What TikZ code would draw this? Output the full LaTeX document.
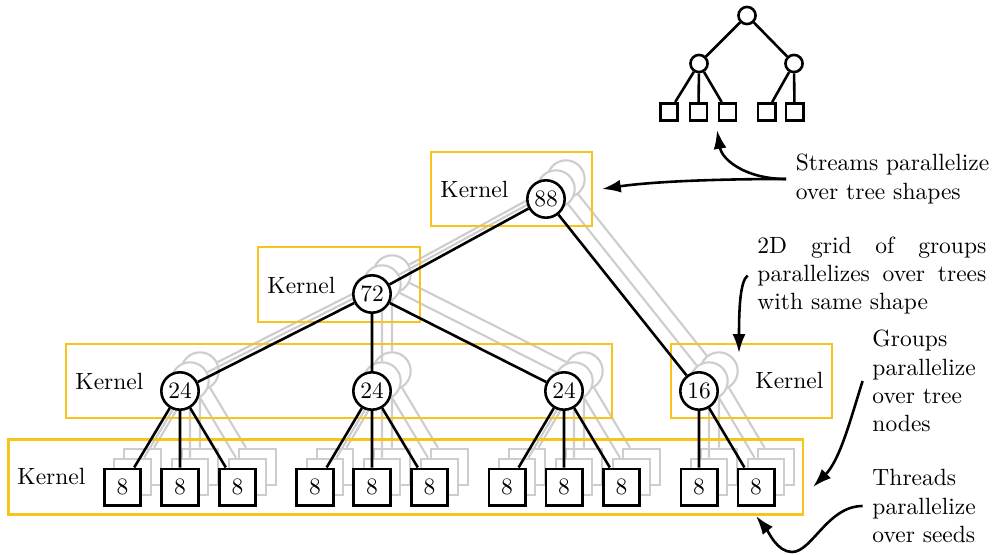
\documentclass[tikz,border=0pt]{standalone}
\usetikzlibrary{arrows.meta,fit}

% one drawing unit
\def\pxu{0.4255pt}
\definecolor{kernelyellow}{RGB}{248,196,28}
\definecolor{shadowgray}{RGB}{205,205,205}

\tikzset{
  treeline/.style={line width=1.1pt},
  cnode/.style={circle, draw, fill=white, line width=1.1pt, minimum size=15.9pt, inner sep=0pt},
  snode/.style={rectangle, draw, fill=white, line width=1.1pt, minimum size=15.5pt, inner sep=0pt},
  ghost/.style={draw=shadowgray, line width=0.9pt},
  kbox/.style={draw=kernelyellow, line width=1.1pt, inner sep=0pt},
  klabel/.style={anchor=west, inner sep=0pt},
  note/.style={anchor=west, align=left, inner xsep=4pt, inner ysep=0pt},
  ptr/.style={line width=1.1pt, -{Latex[length=8pt,width=5.5pt]}},
  minicirc/.style={circle, draw, fill=white, line width=1.1pt, minimum size=7.3pt, inner sep=0pt},
  minisq/.style={rectangle, draw, fill=white, line width=1.1pt, minimum size=7.4pt, inner sep=0pt},
}

\newcommand\treelabel[1]{#1}

% the reduction tree: #1 name prefix, #2 extra style
\newcommand\seedtree[2]{%
  \node[cnode,#2] (#1a) at (546,199) {\treelabel{88}};
  \node[cnode,#2] (#1b) at (372,294) {\treelabel{72}};
  \node[cnode,#2] (#1c) at (180,391) {\treelabel{24}};
  \node[cnode,#2] (#1d) at (372,391) {\treelabel{24}};
  \node[cnode,#2] (#1e) at (564,391) {\treelabel{24}};
  \node[cnode,#2] (#1f) at (699,391) {\treelabel{16}};
  \foreach \x [count=\i] in {122.5,180,237.5,315,372,429.5,507,564,621.5,699,756}
    \node[snode,#2] (#1s\i) at (\x,487) {\treelabel{8}};
  \draw[treeline,#2]
    (#1a) -- (#1b) (#1a) -- (#1f)
    (#1b) -- (#1c) (#1b) -- (#1d) (#1b) -- (#1e)
    (#1c) -- (#1s1) (#1c) -- (#1s2) (#1c) -- (#1s3)
    (#1d) -- (#1s4) (#1d) -- (#1s5) (#1d) -- (#1s6)
    (#1e) -- (#1s7) (#1e) -- (#1s8) (#1e) -- (#1s9)
    (#1f) -- (#1s10) (#1f) -- (#1s11);
}

\begin{document}
\begin{tikzpicture}[x=\pxu, y=-\pxu]
\useasboundingbox (0,0) rectangle (996,554);

% stacked copies of the tree behind the front one
\begin{scope}[shift={(20,-20)}]
  \renewcommand\treelabel[1]{}
  \seedtree{gb}{ghost}
\end{scope}
\begin{scope}[shift={(10,-10)}]
  \renewcommand\treelabel[1]{}
  \seedtree{ga}{ghost}
\end{scope}

% kernel boxes
\node[kbox, fit={(431,152) (592,226)}] (k1) {};
\node[kbox, fit={(258,247) (420,322)}] (k2) {};
\node[kbox, fit={(66,344) (612,418)}] (k3) {};
\node[kbox, fit={(671,344) (832,418)}] (k4) {};
\node[kbox, fit={(8.5,439.5) (803,514.5)}] (k5) {};
\node[klabel] (kl1) at (440,189) {Kernel};
\node[klabel] (kl2) at (267,285) {Kernel};
\node[klabel] (kl3) at (75,381) {Kernel};
\node[klabel] (kl4) at (755,380) {Kernel};
\node[klabel] (kl5) at (17,476) {Kernel};

% front tree
\seedtree{t}{}

% small tree shape
\node[minicirc] (m0) at (747,15.5) {};
\node[minicirc] (m1) at (699,63.5) {};
\node[minicirc] (m2) at (794,63.5) {};
\node[minisq] (q1) at (669,112) {};
\node[minisq] (q2) at (698.5,112) {};
\node[minisq] (q3) at (727.5,112) {};
\node[minisq] (q4) at (766.5,112) {};
\node[minisq] (q5) at (794.5,112) {};
\draw[treeline] (m0) -- (m1) (m0) -- (m2)
  (m1) -- (q1) (m1) -- (q2) (m1) -- (q3)
  (m2) -- (q4) (m2) -- (q5);

% annotations
\node[note] (streams) at (786,179) {Streams parallelize\\over tree shapes};
\node[note] (grid2d) at (747.6,275.5)
  {\hbox to 97.4pt{2D\hfil\ grid\hfil\ of\hfil\ groups}\\
   \hbox to 97.4pt{parallelizes\hfil\ over\hfil\ trees}\\
   with same shape};
\node[note] (groups) at (862.6,381) {Groups\\parallelize\\over tree\\nodes};
\node[note] (threads) at (862.6,506) {Threads\\parallelize\\over seeds};

\coordinate (t1) at (602,189);
\coordinate (t2) at (717,130);
\coordinate (t3) at (739,353);
\coordinate (t4) at (813,487);
\coordinate (tb) at (792,552);
\coordinate (t5) at (756,516);

\draw[ptr] (streams.west) .. controls +(-90,0) and +(40,-6) .. (t1);
\draw[ptr] (streams.west) .. controls +(-40,0) and +(5,30) .. (t2);
\draw[ptr] (grid2d.west) .. controls +(-8,6) and +(0,-40) .. (t3);
\draw[ptr] (groups.west) .. controls +(-12,38) and +(27,-27) .. (t4);
\draw[ptr] (threads.west) .. controls +(-35,0) and +(20,0) .. (tb)
  .. controls +(-15,0) and +(12,15) .. (t5);
\end{tikzpicture}
\end{document}
